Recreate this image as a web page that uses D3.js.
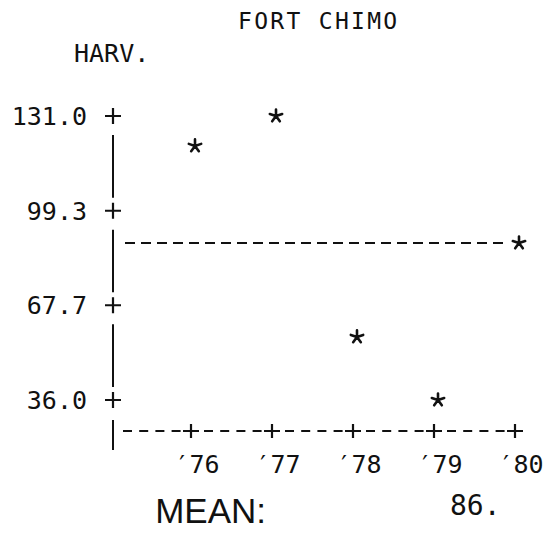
<!DOCTYPE html>
<html>
<head>
<meta charset="utf-8">
<script src="https://cdn.jsdelivr.net/npm/d3@7"></script>
<style>
    body { margin: 0; background: #ffffff; }
    svg { display: block; }
</style>
</head>
<body>
<svg id="chartSVG"></svg>
<script>
// Values
let years = [1976, 1977, 1978, 1979, 1980];
let yearLabels = ["\u203276", "\u203277", "\u203278", "\u203279", "\u203280"];
let harvest = [121.0, 131.0, 57.1, 36.0, 88.5];
let yTicks = [36.0, 67.7, 99.3, 131.0];
let yTickLabels = ["36.0", "67.7", "99.3", "131.0"];
let title = "FORT CHIMO";
let yTitle = "HARV.";
let meanLabel = "MEAN:";
let meanText = "86.";

/*
 * Draws the line printer style plot.
 */
function drawChart(){
    let width = 547;
    let height = 555;
    let ink = "#111111";
    let mono = "'DejaVu Sans Mono', monospace";

    let svg = d3.select("#chartSVG").attr("width", width).attr("height", height);

    // origin of the axis is one year before the first one
    let x = d3.scaleLinear().domain([1975, 1980]).range([110, 515]);
    let y = d3.scaleLinear().domain([36.0, 131.0]).range([400, 116]);

    let axisX = 113;

    // Title and axis name
    svg.append("text")
        .attr("x", 238)
        .attr("y", 29)
        .attr("font-family", mono)
        .attr("font-size", 23)
        .attr("letter-spacing", 2.3)
        .attr("fill", ink)
        .text(title);

    svg.append("text")
        .attr("x", 74)
        .attr("y", 62)
        .attr("font-family", mono)
        .attr("font-size", 25)
        .attr("fill", ink)
        .text(yTitle);

    // Y axis: pieces of "|" between the "+" ticks
    let sortedTicks = yTicks.slice().sort(d3.ascending);
    let segments = [];
    for(let i = 0; i < sortedTicks.length - 1; i++){
        segments.push([y(sortedTicks[i + 1]) + 19, y(sortedTicks[i]) - 13]);
    }
    segments.push([y(sortedTicks[0]) + 20, y(sortedTicks[0]) + 50]);

    svg.selectAll(".ySegment")
        .data(segments)
        .enter()
        .append("line")
        .attr("class", "ySegment")
        .attr("x1", axisX)
        .attr("x2", axisX)
        .attr("y1", function(value){ return value[0]; })
        .attr("y2", function(value){ return value[1]; })
        .attr("stroke", ink)
        .attr("stroke-width", 2);

    let yTickGroups = svg.selectAll(".yTick")
        .data(yTicks)
        .enter()
        .append("g")
        .attr("class", "yTick")
        .attr("transform", function(value){ return "translate(" + axisX + "," + y(value) + ")"; });

    yTickGroups.append("path")
        .attr("d", "M-8,0H8M0,-8V8")
        .attr("stroke", ink)
        .attr("stroke-width", 2.2);

    yTickGroups.append("text")
        .attr("x", -26)
        .attr("dy", "0.36em")
        .attr("text-anchor", "end")
        .attr("font-family", mono)
        .attr("font-size", 25)
        .attr("fill", ink)
        .text(function(value, index){ return yTickLabels[index]; });

    // X axis: dashed line with "+" at every year
    let xAxisY = 431;
    svg.append("line")
        .attr("x1", axisX + 10)
        .attr("x2", x(years[years.length - 1]))
        .attr("y1", xAxisY)
        .attr("y2", xAxisY)
        .attr("stroke", ink)
        .attr("stroke-width", 2)
        .attr("stroke-dasharray", "9,7.2");

    svg.selectAll(".xTick")
        .data(years)
        .enter()
        .append("path")
        .attr("class", "xTick")
        .attr("transform", function(value){ return "translate(" + x(value) + "," + xAxisY + ")"; })
        .attr("d", "M-8,0H8M0,-7V7")
        .attr("stroke", ink)
        .attr("stroke-width", 2.2);

    svg.selectAll(".xLabel")
        .data(years)
        .enter()
        .append("text")
        .attr("class", "xLabel")
        .attr("x", function(value){ return x(value) + 6; })
        .attr("y", 473)
        .attr("text-anchor", "middle")
        .attr("font-family", mono)
        .attr("font-size", 25)
        .attr("fill", ink)
        .text(function(value, index){ return yearLabels[index]; });

    // Dashed line from the axis to the last year's point
    let lastIndex = years.length - 1;
    svg.append("line")
        .attr("x1", axisX + 12)
        .attr("x2", x(years[lastIndex]) - 10)
        .attr("y1", y(harvest[lastIndex]))
        .attr("y2", y(harvest[lastIndex]))
        .attr("stroke", ink)
        .attr("stroke-width", 2)
        .attr("stroke-dasharray", "10,6");

    // Points as printer asterisks
    let star = "";
    for(let k = 0; k < 5; k++){
        let a = (-90 + k * 72) * Math.PI / 180;
        star += "M0,0L" + (6.5 * Math.cos(a)).toFixed(2) + "," + (6.5 * Math.sin(a)).toFixed(2);
    }

    svg.selectAll(".pointStar")
        .data(harvest)
        .enter()
        .append("path")
        .attr("class", "pointStar")
        .attr("transform", function(value, index){
            return "translate(" + (x(years[index]) + 4) + "," + y(value) + ")";
        })
        .attr("d", star)
        .attr("stroke", ink)
        .attr("stroke-width", 2.6)
        .attr("stroke-linecap", "round")
        .attr("fill", "none");

    // Mean line at the bottom
    svg.append("text")
        .attr("x", 266)
        .attr("y", 523)
        .attr("text-anchor", "end")
        .attr("font-family", "'Liberation Sans', Arial, sans-serif")
        .attr("font-size", 35)
        .attr("fill", ink)
        .text(meanLabel);

    svg.append("text")
        .attr("x", 450)
        .attr("y", 515)
        .attr("font-family", mono)
        .attr("font-size", 28)
        .attr("fill", ink)
        .text(meanText);
}

drawChart();
</script>
</body>
</html>
